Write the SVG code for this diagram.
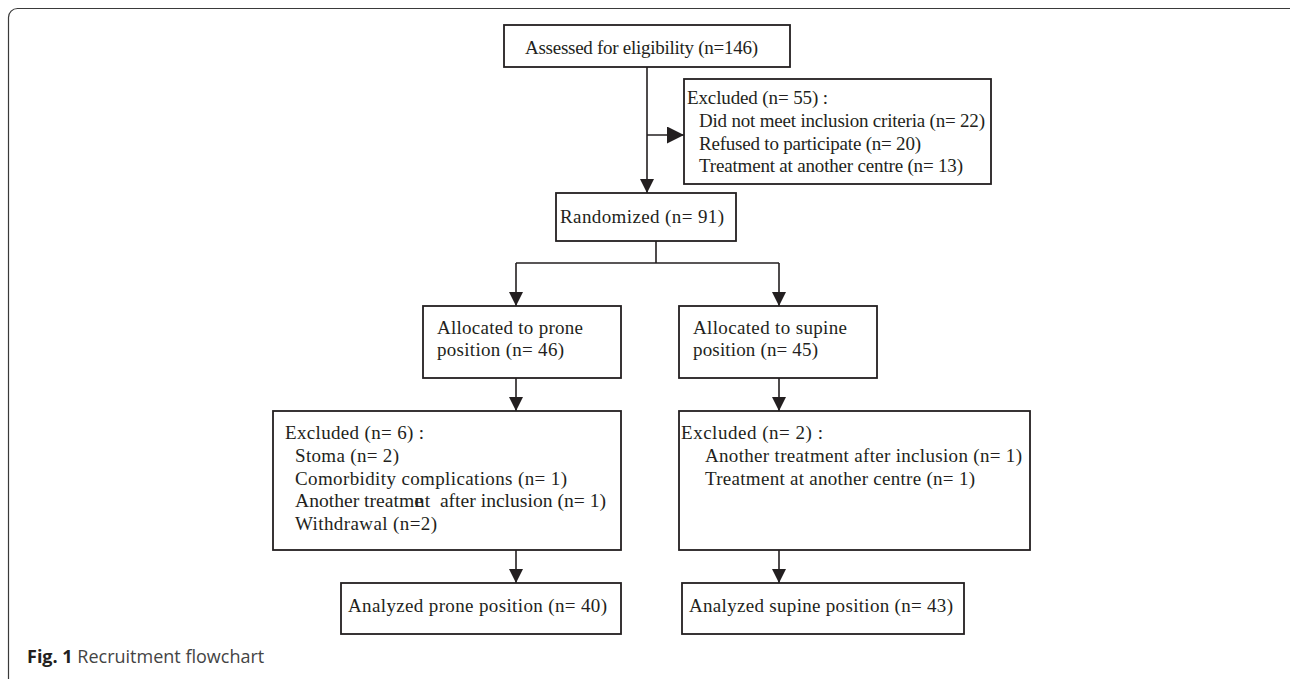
<svg xmlns="http://www.w3.org/2000/svg" width="1290" height="679" viewBox="0 0 1290 679">
<defs>
<style>
.box{fill:#fff;stroke:#231f20;stroke-width:1.8}
.t{font-family:"Liberation Serif","Times New Roman",serif;font-size:19px;fill:#231f20}
.conn{fill:none;stroke:#231f20;stroke-width:1.6}
.frame{fill:none;stroke:#3a3a3a;stroke-width:1.2}
.cap{font-family:"Open Sans","Liberation Sans",sans-serif;font-size:18px;fill:#444}
</style>
<marker id="ah" viewBox="0 0 14 14" refX="14" refY="7" markerWidth="14" markerHeight="14" markerUnits="userSpaceOnUse" orient="auto">
<path d="M0,0 L14,7 L0,14 Z" fill="#231f20"/>
</marker>
<marker id="ahL" viewBox="0 0 17 17" refX="17" refY="8.5" markerWidth="17" markerHeight="17" markerUnits="userSpaceOnUse" orient="auto">
<path d="M0,0 L17,8.5 L0,17 Z" fill="#231f20"/>
</marker>
</defs>
<rect class="frame" x="8.5" y="8.5" width="1290" height="690" rx="9"/>
<g id="connectors">
<path class="conn" d="M647,67 V193" marker-end="url(#ah)"/>
<path class="conn" d="M647,135 H684" marker-end="url(#ahL)"/>
<path class="conn" d="M656,241 V263 M516,263 H779"/>
<path class="conn" d="M516,263 V306" marker-end="url(#ah)"/>
<path class="conn" d="M779,263 V306" marker-end="url(#ah)"/>
<path class="conn" d="M516,378 V411" marker-end="url(#ah)"/>
<path class="conn" d="M779,378 V411" marker-end="url(#ah)"/>
<path class="conn" d="M516,550 V583" marker-end="url(#ah)"/>
<path class="conn" d="M779,550 V583" marker-end="url(#ah)"/>
</g>
<g id="assessed">
<rect class="box" x="504" y="25" width="286" height="42"/>
<text class="t" x="525" y="54" textLength="233">Assessed for eligibility (n=146)</text>
</g>
<g id="excluded55">
<rect class="box" x="684" y="79" width="307" height="105"/>
<text class="t" x="687" y="104" textLength="141">Excluded (n= 55) :</text>
<text class="t" x="699" y="127" textLength="286">Did not meet inclusion criteria (n= 22)</text>
<text class="t" x="699" y="150" textLength="222">Refused to participate (n= 20)</text>
<text class="t" x="699" y="172" textLength="264">Treatment at another centre (n= 13)</text>
</g>
<g id="randomized">
<rect class="box" x="556" y="193" width="180" height="48"/>
<text class="t" x="560" y="223" textLength="164">Randomized (n= 91)</text>
</g>
<g id="prone">
<rect class="box" x="423" y="306" width="198" height="72"/>
<text class="t" x="437" y="334" textLength="146">Allocated to prone</text>
<text class="t" x="437" y="356" textLength="127">position (n= 46)</text>
</g>
<g id="supine">
<rect class="box" x="679" y="306" width="198" height="72"/>
<text class="t" x="693" y="334" textLength="154">Allocated to supine</text>
<text class="t" x="693" y="356" textLength="125">position (n= 45)</text>
</g>
<g id="excluded6">
<rect class="box" x="273" y="411" width="348" height="139"/>
<text class="t" x="285" y="439" textLength="139">Excluded (n= 6) :</text>
<text class="t" x="295" y="462" textLength="104">Stoma (n= 2)</text>
<text class="t" x="295" y="485" textLength="272">Comorbidity complications (n= 1)</text>
<text class="t" x="295" y="507" style="font-size:19.6px">Another treatme<tspan dx="-8">n</tspan>t&#160; after inclusion (n= 1)</text>
<text class="t" x="295" y="530" textLength="142">Withdrawal (n=2)</text>
</g>
<g id="excluded2">
<rect class="box" x="679" y="411" width="351" height="139"/>
<text class="t" x="681" y="439" textLength="142">Excluded (n= 2) :</text>
<text class="t" x="705" y="462" textLength="317">Another treatment after inclusion (n= 1)</text>
<text class="t" x="705" y="485" textLength="270">Treatment at another centre (n= 1)</text>
</g>
<g id="analyzedProne">
<rect class="box" x="341" y="583" width="280" height="51"/>
<text class="t" x="348" y="612" textLength="259">Analyzed prone position (n= 40)</text>
</g>
<g id="analyzedSupine">
<rect class="box" x="682" y="583" width="282" height="51"/>
<text class="t" x="689" y="612" textLength="264">Analyzed supine position (n= 43)</text>
</g>
<text class="cap" x="27" y="663"><tspan font-weight="bold" fill="#231f20">Fig. 1</tspan> Recruitment flowchart</text>
</svg>
